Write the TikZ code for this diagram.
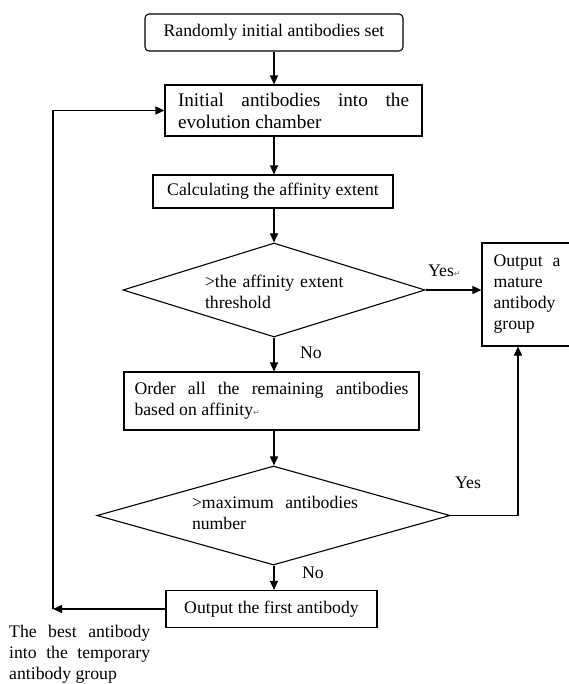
\documentclass[tikz,border=0pt]{standalone}
\usepackage{fontspec}
\setmainfont{Liberation Serif}
\newfontfamily\symfont{DejaVu Sans}
\usetikzlibrary{arrows.meta,shapes.geometric}
\newcommand{\retmark}{{\color{black!55}\symfont\fontsize{8}{8}\selectfont ↵}}
\begin{document}
\begin{tikzpicture}[x=1pt,y=-1pt,
  every node/.append style={font=\fontsize{17.7}{21}\selectfont},
  box/.style={draw, line width=1.1pt, inner sep=0pt},
  dia/.style={draw, diamond, inner sep=0pt, line width=1.1pt},
  lbl/.style={inner sep=0pt},
  arr/.style={line width=1.1pt, -{Triangle[length=9pt,width=8pt]}}]
\useasboundingbox (0,0) rectangle (568,684);

\node[box, rounded corners=4pt, minimum width=258, minimum height=37, align=center] (b1) at (274,32.5) {Randomly initial antibodies set};
\node[box, minimum width=257, minimum height=51, text width=231, align=justify, font=\fontsize{19.2}{22}\selectfont] (b2) at (293.5,110.5) {Initial antibodies into the\linebreak evolution chamber};
\node[box, minimum width=240, minimum height=33, align=center] (b3) at (273,191.5) {Calculating the affinity extent};
\node[dia, minimum width=302, minimum height=94] (d1) at (274,290) {};
\node[lbl, text width=140, align=left] (t1) at (275,292) {>the affinity extent\\ threshold};
\node[box, minimum width=90, minimum height=103, text width=67, align=justify] (b4) at (527,294.5) {Output a\linebreak mature\\ antibody\\ group};
\node[box, minimum width=295, minimum height=58, text width=274, align=justify] (b5) at (271.5,401) {Order all the remaining antibodies\linebreak based on affinity\retmark};
\node[dia, minimum width=353, minimum height=99] (d2) at (273.5,515.5) {};
\node[lbl, text width=166, align=justify] (t2) at (275,513) {>maximum antibodies\linebreak number};
\node[box, minimum width=211, minimum height=37, align=center] (b6) at (271.5,609) {Output the first antibody};
\node[lbl, text width=141, align=justify, anchor=north west] (t3) at (9,625) {The best antibody\linebreak into the temporary\linebreak antibody group};

\node[lbl, anchor=west] (y1) at (428,271) {Yes\retmark};
\node[lbl] (n1) at (311,353) {No};
\node[lbl, anchor=west] (y2) at (455,483) {Yes};
\node[lbl] (n2) at (313,573) {No};

\coordinate (ax) at (274,0);
\coordinate (rc) at (518,0);
\coordinate (lc) at (53,609);

\draw[arr] (b1.south) -- (b1.south |- b2.north);
\draw[arr] (b2.south -| ax) -- (b3.north -| ax);
\draw[arr] (b3.south -| ax) -- (d1.north -| ax);
\draw[arr] (d1.east) -- (b4.west |- d1.east);
\draw[arr] (d1.south -| ax) -- (b5.north -| ax);
\draw[arr] (b5.south -| ax) -- (d2.north -| ax);
\draw[arr] (d2.south -| ax) -- (b6.north -| ax);
\draw[arr] (d2.east) -- (rc |- d2.east) -- (rc |- b4.south);
\draw[arr] (b6.west) -- (lc);
\draw[arr] (lc) -- (lc |- b2.west) -- (b2.west);
\end{tikzpicture}
\end{document}
